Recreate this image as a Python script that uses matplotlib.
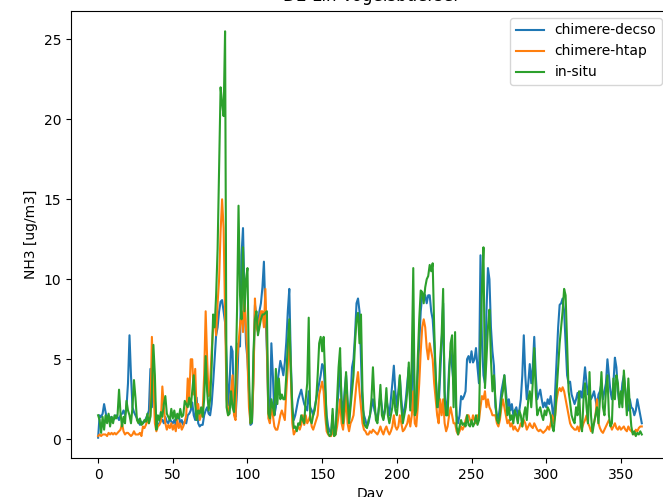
import numpy as np
import matplotlib
matplotlib.use("Agg")
import matplotlib.pyplot as plt

# daily NH3 concentration (days 0..364)
decso = [
    0.1, 1.5, 1.4, 1.6, 2.2, 1.7, 1.2, 1.5, 1.3, 1.4,
    1.2, 1.3, 1.5, 1.4, 1.2, 1.5, 1.6, 1.8, 1.5, 2.0,
    3.5, 6.5, 4.0, 2.0, 1.7, 1.5, 1.3, 1.2, 0.9, 1.1,
    1.0, 1.1, 1.3, 1.5, 1.8, 4.4, 2.0, 4.8, 2.5, 0.8,
    0.9, 1.0, 1.3, 1.2, 1.0, 1.4, 1.1, 1.0, 1.3, 1.1,
    1.0, 1.2, 0.9, 1.3, 1.5, 1.0, 1.2, 0.9, 1.1, 1.0,
    1.5, 1.6, 1.8, 2.3, 1.5, 1.2, 2.6, 1.0, 0.8, 0.9,
    0.9, 1.5, 1.8, 2.0, 1.6, 1.5, 2.2, 3.5, 5.0, 6.5,
    7.0, 8.0, 8.6, 8.7, 8.0, 7.3, 5.0, 2.1, 3.5, 5.8,
    5.5, 1.6, 1.4, 3.0, 6.0, 5.8, 11.5, 13.2, 9.0, 6.0,
    5.0, 3.0, 0.9, 1.0, 4.0, 8.4, 7.7, 7.0, 8.0, 8.5,
    9.5, 11.1, 8.0, 5.5, 1.7, 1.5, 6.0, 4.0, 1.5, 2.0,
    3.5, 4.2, 4.9, 4.5, 4.0, 4.8, 6.1, 8.0, 9.4, 5.0,
    2.0, 1.2, 1.5, 2.0, 2.5, 2.8, 3.1, 2.6, 2.2, 2.0,
    1.8, 3.0, 2.0, 1.8, 1.5, 2.0, 2.5, 3.0, 3.5, 4.0,
    4.7, 4.5, 3.0, 1.5, 0.8, 0.5, 0.4, 1.5, 0.4, 0.6,
    2.0, 3.0, 4.5, 2.5, 1.5, 3.0, 4.0, 2.0, 1.2, 2.5,
    4.5, 5.0, 6.5, 8.5, 8.8, 8.0, 5.0, 2.0, 1.5, 1.2,
    0.8, 1.0, 1.5, 2.0, 2.5, 1.8, 1.5, 1.2, 2.0, 2.8,
    2.0, 1.3, 1.8, 2.5, 2.0, 1.5, 2.5, 3.5, 4.6, 3.0,
    2.0, 3.0, 3.9, 2.5, 1.5, 1.8, 2.5, 3.5, 4.5, 2.0,
    3.0, 6.0, 2.0, 1.5, 4.0, 6.0, 8.0, 9.0, 9.1, 9.0,
    8.5, 9.0, 9.0, 8.0, 7.5, 6.0, 4.0, 2.5, 2.0, 4.0,
    6.0, 8.5, 3.0, 1.5, 2.5, 4.5, 5.5, 4.5, 3.5, 3.0,
    1.5, 1.0, 1.5, 2.7, 2.5, 2.7, 3.0, 5.0, 5.2, 4.8,
    5.5, 4.8, 5.0, 5.7, 4.5, 3.5, 11.5, 6.0, 4.0, 3.5,
    8.0, 10.7, 10.0, 7.0, 5.5, 4.6, 2.0, 1.5, 1.3, 2.0,
    3.0, 3.5, 4.0, 3.0, 2.0, 2.5, 1.8, 2.2, 1.5, 1.8,
    2.0, 1.5, 1.8, 2.5, 4.0, 6.5, 4.0, 2.5, 3.5, 4.7,
    3.5, 4.5, 6.4, 4.0, 2.5, 2.8, 3.1, 2.5, 2.0, 2.3,
    2.0, 2.5, 2.2, 2.7, 2.0, 1.0, 3.0, 5.0, 7.0, 8.4,
    8.5, 8.8, 8.0, 6.0, 4.0, 3.5, 3.6, 2.8, 2.5, 2.2,
    2.5, 2.9, 2.4, 3.0, 2.6, 3.5, 4.5, 3.5, 2.8, 3.0,
    2.5, 2.7, 3.0, 2.5, 2.0, 2.8, 3.0, 3.5, 2.5, 3.0,
    3.5, 5.0, 4.0, 3.0, 2.5, 3.5, 5.1, 4.5, 3.0, 2.2,
    2.5, 3.5, 4.0, 3.0, 2.0, 1.8, 2.5, 2.0, 1.9, 1.5,
    1.8, 2.5, 2.0, 1.5, 1.0,
]
htap = [
    0.2, 0.3, 0.2, 0.3, 0.3, 0.3, 0.2, 0.4, 0.3, 0.4,
    0.3, 0.4, 0.3, 0.4, 0.5, 0.6, 1.0, 0.5, 0.3, 0.4,
    0.4, 0.3, 0.2, 0.3, 0.5, 0.3, 0.3, 0.3, 0.4, 0.2,
    0.8, 0.7, 0.9, 1.2, 1.0, 1.5, 6.4, 3.5, 1.0, 0.5,
    0.8, 0.9, 1.1, 3.3, 2.0, 1.0, 0.6, 0.9, 0.7, 1.0,
    0.6, 0.9, 0.5, 1.2, 0.7, 1.0, 0.6, 0.8, 1.1, 1.5,
    3.8, 2.5, 5.0, 5.0, 2.8, 4.4, 1.5, 2.2, 1.2, 1.5,
    1.8, 4.0, 8.0, 5.0, 2.7, 3.5, 5.5, 7.0, 7.5, 6.5,
    8.5, 10.0, 13.0, 15.0, 13.2, 8.0, 2.5, 1.5, 2.0, 3.0,
    4.0, 1.5, 1.2, 5.0, 6.0, 7.1, 8.0, 6.7, 9.0, 7.0,
    5.0, 2.0, 1.0, 1.2, 3.5, 8.8, 7.0, 6.7, 7.5, 8.0,
    8.0, 7.0, 9.4, 6.0, 1.3, 1.0, 2.0, 1.5, 0.8, 0.6,
    0.6, 1.0, 1.5, 1.8, 1.5, 1.2, 3.0, 4.5, 6.5, 4.0,
    1.0, 0.3, 0.5, 0.6, 0.8, 0.6, 0.9, 1.5, 0.9, 1.5,
    1.0, 1.2, 1.5, 0.8, 0.6, 0.9, 1.2, 1.5, 2.8, 3.2,
    3.6, 3.0, 1.5, 0.5, 0.3, 0.2, 0.2, 0.6, 0.2, 0.3,
    0.8, 1.5, 2.5, 1.0, 0.6, 1.5, 2.8, 1.0, 0.5, 1.0,
    1.2, 1.5, 2.5, 3.5, 4.2, 3.0, 2.0, 1.0, 0.6, 0.5,
    0.3, 0.3, 0.5, 0.4, 0.6, 0.5, 0.4, 0.3, 0.5, 0.8,
    0.5, 0.3, 0.6, 0.8, 0.5, 0.3, 0.5, 0.8, 1.5, 0.8,
    0.6, 0.8, 1.5, 1.0, 0.5, 0.6, 0.8, 1.0, 1.5, 0.8,
    1.5, 3.0, 1.0, 0.8, 2.0, 3.5, 5.5, 7.0, 7.5, 7.0,
    5.7, 5.0, 6.0, 5.5, 5.0, 3.5, 2.5, 1.5, 1.0, 2.5,
    1.5, 2.5, 1.0, 0.5, 0.8, 1.5, 2.0, 1.5, 1.0, 1.0,
    0.5, 0.3, 0.5, 0.8, 0.6, 0.8, 1.2, 1.5, 1.5, 1.2,
    1.0, 1.5, 1.2, 1.0, 1.5, 1.2, 2.0, 2.7, 2.5, 3.0,
    2.0, 2.5, 2.0, 1.8, 1.5, 1.5, 1.5, 1.0, 0.8, 1.2,
    2.0, 2.5, 2.0, 1.5, 1.0, 1.2, 0.8, 1.0, 0.6, 0.8,
    0.6, 0.5, 0.7, 1.0, 0.8, 1.2, 1.0, 0.6, 0.8, 1.0,
    0.8, 0.7, 1.0, 0.8, 0.6, 0.5, 0.6, 0.5, 0.4, 0.5,
    0.6, 0.8, 0.6, 1.0, 1.5, 1.0, 1.5, 2.5, 3.0, 3.2,
    3.0, 3.25, 3.0, 2.5, 2.0, 1.5, 1.0, 0.8, 0.7, 0.6,
    0.6, 0.8, 0.5, 0.9, 0.7, 1.0, 1.2, 1.5, 1.0, 0.8,
    0.5, 0.7, 1.0, 1.5, 2.5, 1.0, 0.7, 0.5, 0.4, 0.6,
    0.8, 1.0, 1.2, 0.9, 0.6, 0.8, 1.0, 0.7, 0.6, 0.8,
    0.6, 0.7, 0.8, 0.6, 0.5, 0.8, 0.6, 0.5, 0.4, 0.3,
    0.6, 0.5, 0.7, 0.8, 0.8,
]
insitu = [
    1.5, 1.2, 0.4, 1.4, 0.6, 1.5, 1.0, 1.6, 0.8, 1.4,
    1.0, 1.5, 1.3, 1.5, 3.1, 1.6, 0.8, 1.4, 1.0, 2.4,
    1.8, 1.5, 1.0, 2.0, 3.7, 2.6, 1.2, 1.0, 1.3, 0.9,
    1.0, 1.2, 1.1, 1.6, 1.0, 1.4, 3.0, 5.9, 4.0, 0.6,
    1.5, 1.2, 1.7, 1.4, 2.2, 2.7, 1.6, 1.4, 1.2, 1.9,
    1.3, 1.8, 1.2, 1.6, 1.3, 1.9, 1.4, 1.5, 2.4, 2.2,
    2.0, 2.6, 2.0, 3.0, 4.0, 2.2, 1.2, 1.8, 1.6, 2.0,
    1.4, 2.5, 5.2, 3.0, 1.8, 2.5, 4.5, 7.8, 7.0, 9.0,
    11.9, 17.0, 22.0, 21.0, 20.2, 25.5, 2.0, 1.5, 1.6, 3.0,
    2.0, 1.7, 3.5, 8.0, 14.6, 9.0, 7.5, 12.0, 8.0, 10.0,
    10.7, 4.0, 1.0, 1.1, 5.5, 7.5, 8.0, 6.5, 7.0, 7.5,
    7.8, 7.8, 7.9, 8.0, 1.6, 1.3, 2.5, 2.0, 1.5, 4.4,
    2.2, 3.8, 2.5, 2.8, 2.5, 2.5, 4.0, 6.0, 7.5, 4.5,
    2.0, 0.7, 0.8, 0.5, 1.0, 0.9, 1.5, 1.2, 1.0, 2.5,
    3.5, 7.6, 1.2, 1.0, 1.5, 1.8, 2.5, 4.0, 6.0, 6.4,
    5.5, 6.4, 4.0, 1.0, 0.4, 0.2, 0.3, 1.9, 0.2, 0.3,
    2.5, 4.5, 5.7, 2.0, 1.0, 2.5, 4.2, 2.5, 1.0, 2.0,
    3.0, 4.0, 6.0, 7.5, 7.9, 6.0, 7.8, 3.0, 1.0, 0.8,
    0.7, 1.2, 1.5, 2.5, 4.5, 2.5, 1.2, 1.0, 2.0, 3.4,
    1.5, 1.2, 1.8, 3.2, 1.5, 1.0, 1.5, 2.0, 3.0, 1.8,
    1.5, 2.5, 4.0, 2.0, 1.0, 1.5, 2.0, 3.0, 4.8, 1.8,
    5.0, 10.7, 1.5, 1.8, 5.0, 7.5, 9.3, 9.2, 8.5, 9.5,
    10.0, 10.2, 10.9, 10.5, 11.0, 7.0, 4.0, 2.0, 2.5, 5.0,
    6.5, 9.4, 2.5, 1.5, 1.5, 4.0, 6.0, 6.5, 2.0, 6.7,
    0.8, 0.3, 0.8, 1.2, 0.9, 1.0, 0.8, 1.5, 0.9, 0.8,
    1.2, 0.8, 1.0, 1.5, 0.9, 1.2, 6.0, 9.5, 12.0, 3.2,
    5.0, 7.0, 8.1, 5.0, 3.0, 4.0, 2.5, 1.2, 1.0, 1.5,
    2.5, 3.0, 4.0, 2.5, 1.5, 2.0, 1.2, 1.5, 1.0, 1.8,
    1.5, 1.0, 1.8, 1.5, 0.8, 1.5, 2.0, 1.2, 2.5, 3.0,
    2.0, 3.5, 5.7, 3.0, 1.5, 1.8, 2.0, 1.5, 1.2, 1.8,
    1.5, 2.0, 1.8, 1.5, 0.8, 0.5, 1.5, 3.0, 4.4, 6.0,
    7.0, 8.0, 9.4, 9.0, 6.0, 3.0, 2.3, 1.5, 1.2, 1.0,
    2.0, 1.5, 3.0, 1.0, 0.5, 2.5, 3.5, 2.0, 1.0, 4.2,
    1.5, 0.4, 1.0, 1.5, 2.0, 1.0, 2.5, 4.2, 2.0, 1.5,
    3.0, 4.0, 1.5, 0.8, 1.0, 3.8, 2.5, 4.0, 3.5, 2.0,
    3.0, 2.0, 4.3, 3.0, 1.5, 3.8, 2.0, 0.8, 0.3, 0.5,
    0.2, 0.4, 0.3, 0.5, 0.3,
]
days = np.arange(len(decso))

fig = plt.figure(figsize=(6.63, 4.97), dpi=100)
ax = fig.add_axes([0.107, 0.0785, 0.902, 0.8994])

ax.plot(days, decso, label="chimere-decso")
ax.plot(np.arange(len(htap)), htap, label="chimere-htap")
ax.plot(np.arange(len(insitu)), insitu, label="in-situ")

# the reference is cropped: title and x label only partly visible
ax.set_title("DE-Lin Vogelsbuersel", pad=7)
ax.set_xlabel("Day")
ax.set_ylabel("NH3 [ug/m3]")
ax.legend(loc="upper right")

fig.savefig("out.png", dpi=100)
